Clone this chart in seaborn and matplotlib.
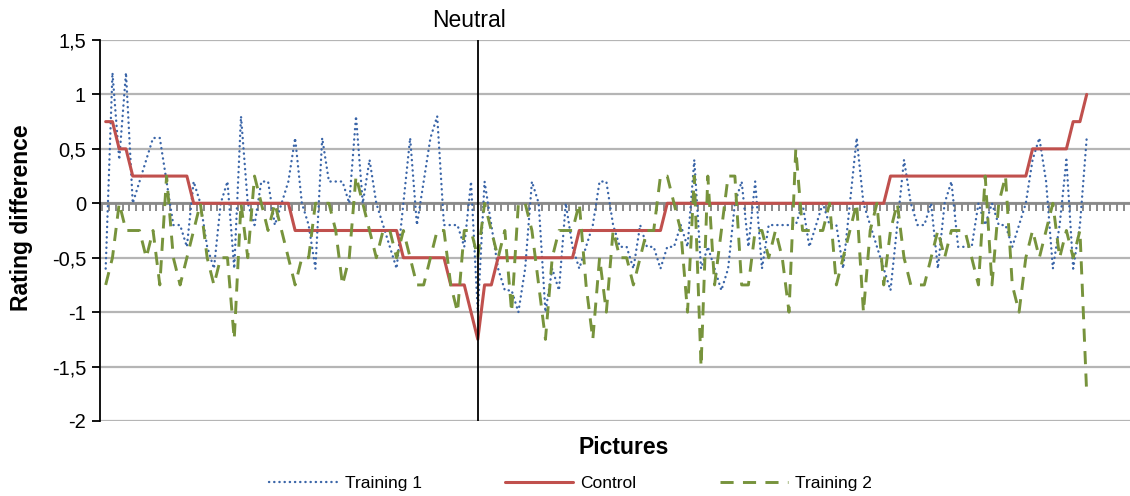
import numpy as np
import pandas as pd
import seaborn as sns
import matplotlib
matplotlib.use("Agg")
import matplotlib.pyplot as plt
from matplotlib.ticker import FixedLocator, FuncFormatter

# values, one per picture
training1 = [-0.6, 1.2, 0.4, 1.2, 0.0, 0.2, 0.4, 0.6, 0.6, 0.2,
             -0.2, -0.2, -0.4, 0.2, 0.0, -0.4, -0.6, 0.0, 0.2, -0.6,
             0.8, 0.0, -0.2, 0.2, 0.2, -0.2, 0.0, 0.2, 0.6, 0.0,
             -0.2, -0.6, 0.6, 0.2, 0.2, 0.2, 0.0, 0.8, 0.0, 0.4,
             0.0, -0.2, -0.4, -0.6, 0.0, 0.6, -0.2, 0.2, 0.6, 0.8,
             -0.2, -0.2, -0.2, -0.4, 0.2, -1.0, 0.2, -0.2, -0.6, -0.8,
             -0.8, -1.0, -0.6, 0.2, 0.0, -1.0, -0.6, -0.8, 0.0, -0.4,
             -0.6, -0.4, -0.2, 0.2, 0.2, -0.2, -0.4, -0.4, -0.6, -0.2,
             -0.4, -0.4, -0.6, -0.4, -0.4, -0.2, -0.4, 0.4, -0.6, -0.4,
             -0.6, -0.8, -0.6, 0.0, 0.2, -0.4, 0.2, -0.6, -0.2, -0.2,
             -0.2, -0.2, -0.2, 0.0, -0.4, -0.2, 0.0, -0.2, -0.2, -0.6,
             0.0, 0.6, 0.0, -0.2, -0.4, -0.6, -0.8, -0.2, 0.4, 0.0,
             -0.2, -0.2, 0.0, -0.6, 0.0, 0.2, -0.4, -0.4, -0.4, 0.0,
             -0.2, 0.0, -0.2, -0.2, -0.4, -0.2, 0.0, 0.4, 0.6, 0.2,
             -0.6, -0.2, 0.4, -0.6, -0.2, 0.6]

control = [0.75, 0.75, 0.5, 0.5, 0.25, 0.25, 0.25, 0.25, 0.25, 0.25,
           0.25, 0.25, 0.25, 0, 0, 0, 0, 0, 0, 0,
           0, 0, 0, 0, 0, 0, 0, 0, -0.25, -0.25,
           -0.25, -0.25, -0.25, -0.25, -0.25, -0.25, -0.25, -0.25, -0.25, -0.25,
           -0.25, -0.25, -0.25, -0.25, -0.5, -0.5, -0.5, -0.5, -0.5, -0.5,
           -0.5, -0.75, -0.75, -0.75, -1.0, -1.25, -0.75, -0.75, -0.5, -0.5,
           -0.5, -0.5, -0.5, -0.5, -0.5, -0.5, -0.5, -0.5, -0.5, -0.5,
           -0.25, -0.25, -0.25, -0.25, -0.25, -0.25, -0.25, -0.25, -0.25, -0.25,
           -0.25, -0.25, -0.25, 0, 0, 0, 0, 0, 0, 0,
           0, 0, 0, 0, 0, 0, 0, 0, 0, 0,
           0, 0, 0, 0, 0, 0, 0, 0, 0, 0,
           0, 0, 0, 0, 0, 0, 0.25, 0.25, 0.25, 0.25,
           0.25, 0.25, 0.25, 0.25, 0.25, 0.25, 0.25, 0.25, 0.25, 0.25,
           0.25, 0.25, 0.25, 0.25, 0.25, 0.25, 0.25, 0.5, 0.5, 0.5,
           0.5, 0.5, 0.5, 0.75, 0.75, 1.0]

training2 = [-0.75, -0.5, 0.0, -0.25, -0.25, -0.25, -0.5, -0.25, -0.75, 0.25,
             -0.5, -0.75, -0.5, -0.25, 0.0, -0.5, -0.75, -0.5, -0.5, -1.25,
             0.0, -0.5, 0.25, 0.0, -0.25, 0.0, -0.25, -0.5, -0.75, -0.5,
             -0.5, 0.0, 0.0, 0.0, -0.25, -0.75, -0.5, 0.25, 0.0, -0.25,
             -0.5, -0.25, -0.25, -0.5, -0.25, -0.5, -0.75, -0.75, -0.5, -0.25,
             -0.25, -0.75, -1.0, -0.25, -0.25, -0.5, 0.0, -0.25, -0.5, -0.25,
             -1.0, 0.0, 0.0, -0.25, -0.75, -1.25, -0.5, -0.25, -0.25, -0.25,
             0.0, -0.75, -1.25, -0.5, -1.0, -0.25, -0.5, -0.5, -0.75, -0.5,
             -0.25, -0.25, 0.25, 0.25, 0.0, -0.25, -1.0, 0.25, -1.5, 0.25,
             -0.75, -0.25, 0.25, 0.25, -0.75, -0.75, -0.25, -0.25, -0.5, -0.25,
             -0.5, -1.0, 0.5, -0.25, -0.25, -0.25, -0.25, 0.0, -0.75, -0.5,
             -0.25, 0.0, -1.0, -0.25, 0.0, -0.75, -0.25, 0.0, -0.5, -0.75,
             -0.75, -0.75, -0.5, -0.25, -0.5, -0.25, -0.25, -0.25, -0.5, -0.75,
             0.25, -0.75, 0.0, 0.25, -0.75, -1.0, -0.5, -0.25, -0.5, -0.25,
             0.0, -0.5, -0.25, -0.5, -0.25, -1.75]

neutral_picture = 55
y_ticks = [-2, -1.5, -1, -0.5, 0, 0.5, 1, 1.5]
n_categories = 152


def main():
    pictures = np.arange(len(control))
    df = pd.DataFrame({'Picture': pictures, 'Training 1': training1,
                       'Control': control, 'Training 2': training2})

    sns.set_style('white')
    plt.rcParams['font.family'] = ['Liberation Sans', 'DejaVu Sans']
    plt.rcParams['text.color'] = 'black'
    plt.rcParams['axes.labelcolor'] = 'black'
    plt.rcParams['ytick.labelcolor'] = 'black'

    fig = plt.figure(figsize=(11.3, 4.96), dpi=100)
    ax = fig.add_axes([100 / 1130, 75 / 496, 1030 / 1130, 381 / 496])

    sns.lineplot(data=df, x='Picture', y='Training 1', ax=ax, color='#3a65a8',
                 lw=1.7, linestyle=(0, (0.1, 2.1)), dash_capstyle='round',
                 label='Training 1')
    sns.lineplot(data=df, x='Picture', y='Control', ax=ax, color='#c0504d',
                 lw=2.2, label='Control')
    sns.lineplot(data=df, x='Picture', y='Training 2', ax=ax, color='#77933c',
                 lw=2.1, linestyle=(0, (4.5, 3.2)), label='Training 2')

    ax.axvline(neutral_picture, color='black', lw=1.3, zorder=5)
    ax.text(neutral_picture - 1.3, 1.57, 'Neutral', ha='center', va='bottom',
            fontsize=16.5, color='black')

    ax.set_xlim(-0.84, 151.4)
    ax.set_ylim(-2, 1.5)

    # y axis
    ax.yaxis.set_major_locator(FixedLocator(y_ticks))
    ax.yaxis.set_major_formatter(FuncFormatter(lambda v, p: f'{v:g}'.replace('.', ',')))
    ax.grid(axis='y', color='#b5b5b5', lw=1.6)
    ax.grid(axis='x', visible=False)
    ax.tick_params(axis='y', direction='out', length=6, width=1.3, color='black',
                   labelcolor='black', labelsize=14.5, pad=4, left=True)
    ax.spines['left'].set_color('black')
    ax.spines['left'].set_linewidth(1.3)
    ax.spines['right'].set_visible(False)
    ax.spines['top'].set_visible(False)

    # category axis crossing at zero
    ax.spines['bottom'].set_position(('data', 0))
    ax.spines['bottom'].set_color('#8a8a8a')
    ax.spines['bottom'].set_linewidth(2)
    ax.spines['bottom'].set_zorder(1.5)
    ax.xaxis.set_major_locator(FixedLocator(np.arange(n_categories) - 0.5))
    ax.tick_params(axis='x', direction='out', length=5.5, width=1.4, color='#8a8a8a',
                   labelbottom=False, bottom=True)

    ax.set_xlabel('Pictures', fontsize=16.5, fontweight='bold', color='black')
    ax.xaxis.set_label_coords(0.508, -0.04)
    ax.set_ylabel('Rating difference', fontsize=16.5, fontweight='bold', color='black')
    ax.yaxis.set_label_coords(-0.065, 0.533)

    handles, labels = ax.get_legend_handles_labels()
    ax.get_legend().remove()
    fig.legend(handles, labels, loc='center', bbox_to_anchor=(0.505, 0.026),
               ncol=3, frameon=False, fontsize=12.5, handlelength=3.9,
               handletextpad=0.45, columnspacing=4.8, labelcolor='black')

    fig.savefig('out.png', dpi=100)
    plt.close(fig)


if __name__ == "__main__":
    main()
